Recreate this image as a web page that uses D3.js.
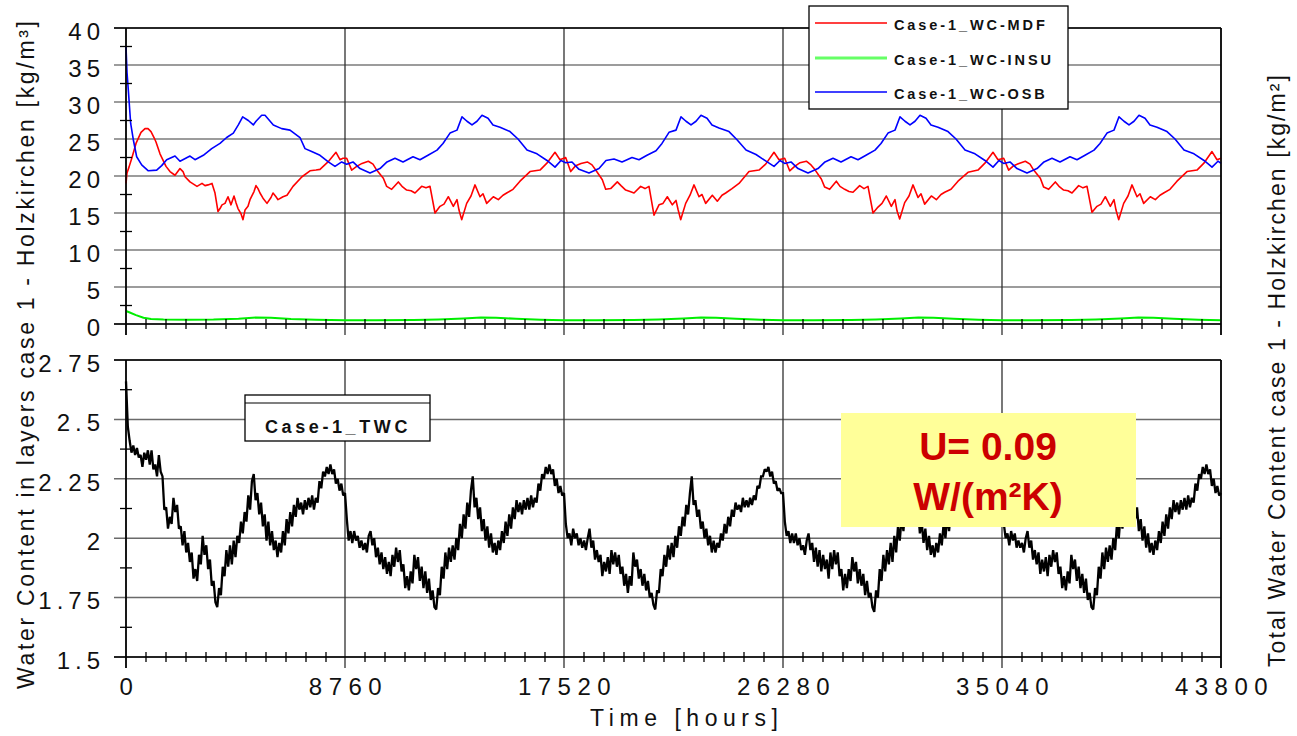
<!DOCTYPE html>
<html>
<head>
<meta charset="utf-8">
<script src="https://cdn.jsdelivr.net/npm/d3@7"></script>
<style>
  html, body { margin: 0; padding: 0; background: #fff; }
  svg { display: block; }
</style>
</head>
<body>
<svg id="chart" width="1297" height="736"></svg>
<script>
// ---- Axis ticks ----
const xMajorTicks = [0, 8760, 17520, 26280, 35040, 43800];
const topTicks = [0, 5, 10, 15, 20, 25, 30, 35, 40];
const bottomTicks = [1.5, 1.75, 2, 2.25, 2.5, 2.75];
const topMinorTicks = [2.5, 7.5, 12.5, 17.5, 22.5, 27.5, 32.5, 37.5];
const bottomMinorTicks = [1.625, 1.875, 2.125, 2.375, 2.625];
const minorStepHours = 800;

// ---- Layer water content [kg/m³]: [hour, value] ----
const wcMDF = [
  [0,19.0],[40,20.4],[120,21.2],[240,22.5],[400,24.4],[600,25.9],[760,26.4],[880,26.4],[1000,26.0],[1120,25.2],
  [1200,24.6],[1360,23.0],[1600,21.3],[1760,20.6],[1960,20.1],[2160,21.0],[2280,20.6],[2360,19.9],[2560,19.2],[2840,18.6],
  [3040,19.0],[3160,18.7],[3280,18.8],[3440,19.0],[3560,17.7],[3680,15.2],[3760,15.6],[3840,16.1],[3960,16.3],[4080,17.2],
  [4200,16.1],[4320,17.3],[4400,16.4],[4480,15.6],[4600,14.9],[4680,14.1],[4760,15.4],[4880,15.9],[4960,16.8],[5120,17.9],
  [5200,18.7],[5280,18.3],[5360,17.7],[5480,17.0],[5640,16.3],[5800,17.1],[5880,17.7],[6000,17.2],[6080,16.8],[6280,17.2],
  [6440,17.4],[6680,18.6],[7040,19.9],[7360,20.7],[7600,20.8],[7760,20.9],[8080,21.9],[8400,23.2],[8560,22.2],[8680,22.4],
  [8827,22.4],[9027,20.8],[9227,21.3],[9440,21.7],[9693,22.0],[9880,21.6],[10027,20.8],[10293,19.7],[10427,18.6],[10627,18.2],
  [10893,19.2],[11040,18.6],[11227,18.1],[11400,18.0],[11560,17.7],[11827,18.6],[12000,18.4],[12160,18.6],[12360,15.0],[12560,15.9],
  [12720,16.2],[12893,17.2],[13093,15.9],[13240,16.8],[13320,15.4],[13427,14.1],[13627,16.3],[13800,17.3],[13960,18.8],[14160,17.2],
  [14280,17.6],[14427,16.3],[14693,17.2],[14893,16.8],[15080,17.4],[15227,17.7],[15480,18.2],[15760,19.3],[16160,20.6],[16560,20.8],
  [16827,21.7],[17160,23.2],[17360,22.2],
  [17587,22.5],[17787,20.6],[17987,21.4],[18200,21.7],[18453,21.9],[18640,21.5],[18787,20.8],[19053,19.5],[19187,18.2],[19387,18.3],
  [19653,19.2],[19800,18.7],[19987,18.1],[20160,17.9],[20320,17.7],[20587,18.6],[20760,18.3],[20920,18.6],[21120,14.7],[21320,16.1],
  [21480,16.3],[21653,17.2],[21853,16.1],[22000,16.7],[22080,15.5],[22187,14.1],[22387,16.3],[22560,17.4],[22720,18.8],[22920,17.2],
  [23040,17.5],[23187,16.3],[23453,17.4],[23653,16.6],[23840,17.4],[23987,17.7],[24240,18.3],[24520,19.0],[24920,20.6],[25320,20.8],
  [25587,21.6],[25920,23.2],[26120,22.2],
  [26347,22.4],[26547,20.7],[26747,21.3],[26960,21.8],[27213,22.0],[27400,21.5],[27547,20.9],[27813,19.6],[27947,18.5],[28147,18.2],
  [28413,19.3],[28560,18.6],[28747,18.2],[28920,17.9],[29080,17.8],[29347,18.7],[29520,18.3],[29680,18.6],[29880,15.0],[30080,15.8],
  [30240,16.3],[30413,17.3],[30613,15.9],[30760,16.8],[30840,15.3],[30947,14.2],[31147,16.4],[31320,17.3],[31480,18.8],[31680,17.1],
  [31800,17.6],[31947,16.2],[32213,17.3],[32413,16.8],[32600,17.5],[32747,17.8],[33000,18.2],[33280,19.3],[33680,20.5],[34080,20.8],
  [34347,21.7],[34680,23.2],[34880,22.2],
  [35107,22.4],[35307,20.8],[35507,21.4],[35720,21.7],[35973,22.0],[36160,21.6],[36307,20.8],[36573,19.7],[36707,18.5],[36907,18.2],
  [37173,19.2],[37320,18.6],[37507,18.1],[37680,18.0],[37840,17.7],[38107,18.7],[38280,18.4],[38440,18.6],[38640,15.1],[38840,15.9],
  [39000,16.2],[39173,17.2],[39373,15.9],[39520,16.8],[39600,15.4],[39707,14.1],[39907,16.3],[40080,17.3],[40240,18.8],[40440,17.2],
  [40560,17.6],[40707,16.3],[40973,17.2],[41173,16.8],[41360,17.4],[41507,17.7],[41760,18.2],[42040,19.3],[42440,20.6],[42840,20.8],
  [43107,21.7],[43440,23.3],[43640,22.2],[43800,22.4]
];

const wcINSU = [
  [0,1.75],[150,1.55],[400,1.2],[700,0.85],[1000,0.68],[1500,0.6],[2500,0.58],[3500,0.6],[4500,0.72],[5200,0.88],
  [5800,0.85],[6600,0.68],[7600,0.58],[8760,0.52],[10000,0.5],[11500,0.53],[12500,0.6],[13500,0.74],[14200,0.87],[14800,0.85],
  [15600,0.7],[16600,0.58],[17520,0.52],[18800,0.5],[20300,0.53],[21300,0.6],[22300,0.74],[23000,0.88],[23600,0.85],[24400,0.7],
  [25400,0.58],[26280,0.52],[27500,0.5],[29000,0.53],[30000,0.6],[31000,0.74],[31700,0.88],[32300,0.85],[33100,0.7],[34100,0.58],
  [35040,0.52],[36300,0.5],[37800,0.53],[38800,0.6],[39800,0.74],[40500,0.88],[41100,0.85],[41900,0.7],[42900,0.58],[43800,0.52]
];

const wcOSB = [
  [0,37.5],[40,34.0],[93,31.6],[187,27.1],[293,24.9],[427,22.6],[627,21.5],[893,20.7],[1227,20.8],[1427,21.4],
  [1627,22.2],[1960,22.7],[2160,22.0],[2560,22.7],[2760,22.2],[3093,22.8],[3427,23.7],[3760,24.4],[4027,25.2],[4293,25.8],
  [4493,26.9],[4667,28.0],[4893,27.5],[5093,26.9],[5200,27.4],[5427,28.2],[5560,28.2],[5893,26.9],[6227,26.4],[6560,26.2],
  [6960,25.2],[7160,23.7],[7427,23.3],[7760,22.8],[8093,21.9],[8360,21.3],[8627,21.9],
  [8827,21.6],[9080,21.9],[9360,21.0],[9760,20.4],[10160,21.0],[10440,21.9],[10760,22.4],[11080,21.9],[11480,22.6],[11760,22.2],
  [12080,22.8],[12440,23.5],[12680,24.4],[12960,25.8],[13240,26.2],[13440,28.0],[13640,27.4],[13840,26.9],[14040,27.4],[14240,28.2],
  [14480,27.8],[14680,26.9],[14960,26.6],[15360,26.0],[15680,25.0],[16040,23.5],[16440,23.0],[16840,22.1],[17160,21.2],[17400,22.1],
  [17587,21.8],[17840,21.9],[18120,20.9],[18520,20.4],[18920,21.0],[19200,22.1],[19520,22.3],[19840,21.9],[20240,22.5],[20520,22.2],
  [20840,22.8],[21200,23.4],[21440,24.4],[21720,25.9],[22000,26.2],[22200,28.0],[22400,27.4],[22600,26.9],[22800,27.4],[23000,28.2],
  [23240,27.8],[23440,26.9],[23720,26.5],[24120,26.0],[24440,24.9],[24800,23.5],[25200,22.9],[25600,22.0],[25920,21.3],[26160,22.1],
  [26347,21.7],[26600,21.9],[26880,21.0],[27280,20.4],[27680,21.0],[27960,21.9],[28280,22.4],[28600,21.9],[29000,22.6],[29280,22.2],
  [29600,22.8],[29960,23.5],[30200,24.4],[30480,25.8],[30760,26.2],[30960,28.0],[31160,27.4],[31360,26.9],[31560,27.4],[31760,28.2],
  [32000,27.8],[32200,26.9],[32480,26.6],[32880,26.0],[33200,25.0],[33560,23.5],[33960,23.0],[34360,22.1],[34680,21.2],[34920,22.1],
  [35107,21.7],[35360,21.9],[35640,21.0],[36040,20.4],[36440,21.0],[36720,21.9],[37040,22.4],[37360,21.9],[37760,22.6],[38040,22.2],
  [38360,22.8],[38720,23.5],[38960,24.4],[39240,25.8],[39520,26.2],[39720,28.0],[39920,27.4],[40120,26.9],[40320,27.4],[40520,28.2],
  [40760,27.8],[40960,26.9],[41240,26.6],[41640,26.0],[41960,25.0],[42320,23.5],[42720,23.0],[43120,22.1],[43440,21.2],[43680,22.0],[43800,21.7]
];

// ---- Total water content [kg/m²], one value every 73 hours ----
const twcStepHours = 73;
const twcYear1 = [
  2.66,2.47,2.41,2.36,2.39,2.35,2.38,2.34,2.35,2.30, 2.36,2.33,2.37,2.31,2.37,2.29,2.31,2.26,2.35,2.28,
  2.26,2.12,2.13,2.04,2.09,2.06,2.17,2.11,2.14,2.04, 2.05,1.97,2.03,1.94,1.98,1.90,1.94,1.83,1.87,1.82,
  1.93,1.89,2.01,1.93,1.97,1.87,1.91,1.80,1.82,1.73, 1.71,1.79,1.76,1.88,1.84,1.95,1.88,1.97,1.89,1.99,
  1.92,2.01,1.98,2.07,2.02,2.11,2.07,2.18,2.12,2.24, 2.27,2.16,2.19,2.10,2.15,2.05,2.10,1.99,2.07,1.97,
  2.03,1.95,1.99,1.92,1.98,1.94,2.03,1.97,2.08,2.02, 2.11,2.05,2.14,2.09,2.17,2.12,2.15,2.10,2.16,2.12,
  2.17,2.13,2.18,2.12,2.17,2.15,2.24,2.21,2.28,2.26, 2.30,2.27,2.31,2.27,2.29,2.23,2.25,2.20,2.23,2.18
];
const twcYear2 = [
  2.19,2.08,1.99,2.03,1.98,2.03,1.99,2.01,1.96,1.99, 1.95,1.98,1.94,2.01,2.03,1.97,2.00,1.92,1.96,1.89,
  1.94,1.87,1.92,1.85,1.90,1.84,1.93,1.88,1.96,1.90, 1.95,1.86,1.89,1.79,1.84,1.78,1.86,1.81,1.93,1.87,
  1.92,1.82,1.88,1.79,1.86,1.77,1.83,1.74,1.78,1.71, 1.70,1.79,1.76,1.88,1.83,1.94,1.87,1.96,1.90,1.97,
  1.91,2.00,1.95,2.06,2.00,2.10,2.04,2.15,2.09,2.20, 2.26,2.13,2.17,2.08,2.13,2.03,2.08,1.99,2.05,1.96,
  2.02,1.94,1.98,1.93,1.99,1.95,2.03,1.98,2.07,2.01, 2.10,2.04,2.13,2.08,2.16,2.11,2.15,2.10,2.16,2.12,
  2.17,2.12,2.18,2.13,2.17,2.15,2.23,2.20,2.27,2.25, 2.30,2.27,2.31,2.27,2.29,2.22,2.25,2.19,2.22,2.18
];
const twcYear3 = [
  2.19,2.06,2.00,2.02,1.97,2.04,2.00,2.02,1.97,2.00, 1.96,1.99,1.95,2.00,2.04,1.96,1.99,1.91,1.95,1.90,
  1.93,1.84,1.90,1.86,1.92,1.85,1.95,1.89,1.94,1.88, 1.93,1.85,1.88,1.80,1.85,1.77,1.84,1.80,1.94,1.88,
  1.91,1.83,1.87,1.80,1.85,1.78,1.82,1.75,1.77,1.72, 1.70,1.78,1.77,1.87,1.84,1.93,1.88,1.97,1.91,1.98,
  1.92,2.01,1.96,2.05,2.01,2.09,2.05,2.14,2.10,2.19, 2.26,2.14,2.16,2.09,2.12,2.04,2.07,2.00,2.04,1.97,
  2.01,1.94,1.99,1.94,1.98,1.96,2.02,1.99,2.06,2.02, 2.09,2.05,2.12,2.09,2.15,2.12,2.14,2.11,2.17,2.13,
  2.16,2.13,2.17,2.14,2.18,2.16,2.22,2.21,2.26,2.26, 2.29,2.28,2.30,2.26,2.28,2.23,2.24,2.20,2.21,2.19
];
const twcYear4 = [
  2.19,2.07,2.01,2.03,1.98,2.02,1.98,2.02,1.97,2.00, 1.95,1.97,1.93,1.99,2.02,1.95,1.98,1.90,1.96,1.88,
  1.95,1.86,1.93,1.87,1.91,1.83,1.94,1.87,1.95,1.89, 1.94,1.84,1.87,1.78,1.85,1.79,1.87,1.82,1.92,1.86,
  1.90,1.81,1.87,1.80,1.85,1.76,1.82,1.75,1.77,1.71, 1.69,1.78,1.75,1.87,1.82,1.93,1.86,1.95,1.89,1.98,
  1.90,2.01,1.94,2.05,1.99,2.09,2.03,2.14,2.08,2.19, 2.25,2.12,2.16,2.07,2.12,2.02,2.07,1.98,2.04,1.95,
  2.01,1.93,1.97,1.92,1.98,1.94,2.02,1.97,2.06,2.00, 2.09,2.03,2.12,2.07,2.15,2.10,2.14,2.09,2.15,2.11,
  2.16,2.11,2.17,2.12,2.16,2.14,2.22,2.19,2.26,2.24, 2.29,2.26,2.30,2.26,2.28,2.21,2.24,2.18,2.21,2.17
];
const twcYear5 = [
  2.18,2.06,2.00,2.02,1.97,2.03,1.99,2.02,1.96,1.99, 1.96,1.98,1.94,2.00,2.03,1.96,1.99,1.91,1.95,1.89,
  1.94,1.85,1.91,1.86,1.92,1.84,1.93,1.88,1.95,1.90, 1.94,1.85,1.88,1.79,1.84,1.78,1.86,1.81,1.93,1.87,
  1.91,1.82,1.88,1.79,1.85,1.77,1.83,1.74,1.77,1.71, 1.70,1.79,1.76,1.88,1.83,1.94,1.87,1.96,1.90,1.97,
  1.91,2.00,1.95,2.06,2.00,2.10,2.04,2.15,2.09,2.20, 2.26,2.13,2.17,2.08,2.13,2.03,2.08,1.99,2.05,1.96,
  2.02,1.94,1.98,1.93,1.99,1.95,2.03,1.98,2.07,2.01, 2.10,2.04,2.13,2.08,2.16,2.11,2.15,2.10,2.16,2.12,
  2.17,2.12,2.18,2.13,2.17,2.15,2.23,2.20,2.27,2.25, 2.30,2.27,2.31,2.27,2.29,2.22,2.25,2.19,2.22,2.18,
  2.19
];

const topSeries = [
  { name: "Case-1_WC-MDF",  data: wcMDF,  color: "#ff0000", width: 1.6 },
  { name: "Case-1_WC-INSU", data: wcINSU, color: "#00ee00", width: 2 },
  { name: "Case-1_WC-OSB",  data: wcOSB,  color: "#0000ff", width: 1.6 }
];

// ---- Layout ----
const FONT = "'Liberation Sans', Arial, Helvetica, sans-serif";
const svg = d3.select("#chart");

const x = d3.scaleLinear().domain([0, 43800]).range([126, 1221]);
const yTop = d3.scaleLinear().domain([0, 40]).range([324, 28]);
const yBot = d3.scaleLinear().domain([1.5, 2.75]).range([657, 360]);

const gridStart = 114;

// minor x tick positions, restarting at every year mark
const xMinorTicks = [];
for (let k = 0; k < xMajorTicks.length - 1; k++) {
  for (let t = xMajorTicks[k] + minorStepHours; t < xMajorTicks[k + 1]; t += minorStepHours) {
    xMinorTicks.push(t);
  }
}

function drawPanel(yScale, majors, hColor, hWidth) {
  const g = svg.append("g");
  const [yLow, yHigh] = yScale.range();
  // horizontal grid lines (reach left past the axis)
  g.selectAll("line.h").data(majors).join("line")
    .attr("x1", gridStart).attr("x2", x.range()[1])
    .attr("y1", d => yScale(d)).attr("y2", d => yScale(d))
    .attr("stroke", hColor).attr("stroke-width", hWidth);
  // vertical year lines (reach below the axis)
  g.selectAll("line.v").data(xMajorTicks).join("line")
    .attr("x1", d => x(d)).attr("x2", d => x(d))
    .attr("y1", yHigh).attr("y2", yLow + 11)
    .attr("stroke", "#303030").attr("stroke-width", 1.3);
  return g;
}

function drawFrame(yScale, minors) {
  const g = svg.append("g");
  const [yLow, yHigh] = yScale.range();
  // left spine, right spine, bottom axis, top edge
  g.append("line").attr("x1", x(0)).attr("x2", x(0)).attr("y1", yHigh).attr("y2", yLow + 11)
    .attr("stroke", "#000").attr("stroke-width", 1.6);
  g.append("line").attr("x1", x(43800)).attr("x2", x(43800)).attr("y1", yHigh).attr("y2", yLow + 11)
    .attr("stroke", "#000").attr("stroke-width", 1.6);
  g.append("line").attr("x1", gridStart).attr("x2", x(43800)).attr("y1", yLow).attr("y2", yLow)
    .attr("stroke", "#000").attr("stroke-width", 1.6);
  g.append("line").attr("x1", gridStart).attr("x2", x(43800)).attr("y1", yHigh).attr("y2", yHigh)
    .attr("stroke", "#000").attr("stroke-width", 1.3);
  // minor x ticks crossing the bottom axis
  g.selectAll("line.mx").data(xMinorTicks).join("line")
    .attr("x1", d => x(d)).attr("x2", d => x(d))
    .attr("y1", yLow - 5).attr("y2", yLow + 5)
    .attr("stroke", "#000").attr("stroke-width", 1.3);
  // minor y ticks crossing the left spine
  g.selectAll("line.my").data(minors).join("line")
    .attr("x1", x(0) - 6).attr("x2", x(0) + 6)
    .attr("y1", d => yScale(d)).attr("y2", d => yScale(d))
    .attr("stroke", "#000").attr("stroke-width", 1.3);
  return g;
}

function yLabels(yScale, values) {
  const axis = d3.axisLeft(yScale).tickValues(values).tickSize(0).tickPadding(0)
    .tickFormat(d3.format("~g"));
  const g = svg.append("g").attr("transform", `translate(${x(0) - 21},0)`).call(axis);
  g.select(".domain").remove();
  g.selectAll("text")
    .attr("font-family", FONT).attr("font-size", 24).attr("fill", "#111")
    .attr("letter-spacing", "5px").attr("dy", "0.47em").attr("x", 0);
}

// ---- Top panel ----
drawPanel(yTop, topTicks, "#3a3a3a", 1.2);
const topLine = d3.line().x(d => x(d[0])).y(d => yTop(d[1]));
svg.append("g").selectAll("path").data(topSeries).join("path")
  .attr("d", d => topLine(d.data))
  .attr("fill", "none").attr("stroke", d => d.color).attr("stroke-width", d => d.width)
  .attr("stroke-linejoin", "round");
drawFrame(yTop, topMinorTicks);
yLabels(yTop, topTicks);

// ---- Bottom panel ----
drawPanel(yBot, bottomTicks, "#6a6a6a", 1.5);
const twc = [].concat(twcYear1, twcYear2, twcYear3, twcYear4, twcYear5);
const botLine = d3.line().x((d, i) => x(i * twcStepHours)).y(d => yBot(d));
svg.append("path").attr("d", botLine(twc))
  .attr("fill", "none").attr("stroke", "#000").attr("stroke-width", 2.3)
  .attr("stroke-linejoin", "miter").attr("stroke-miterlimit", 2);
drawFrame(yBot, bottomMinorTicks);
yLabels(yBot, bottomTicks);

// x tick labels under the bottom panel
const xAxis = d3.axisBottom(x).tickValues(xMajorTicks).tickSize(0).tickPadding(0).tickFormat(d3.format("d"));
const xg = svg.append("g").attr("transform", `translate(3,${yBot.range()[0]})`).call(xAxis);
xg.select(".domain").remove();
xg.selectAll("text").attr("font-family", FONT).attr("font-size", 24).attr("fill", "#111")
  .attr("letter-spacing", "6.5px").attr("y", 38).attr("dy", 0);

// ---- Axis titles ----
svg.append("text").attr("transform", "translate(34,355) rotate(-90)")
  .attr("text-anchor", "middle").attr("font-family", FONT).attr("font-size", 23).attr("fill", "#111")
  .attr("textLength", 668).attr("lengthAdjust", "spacing")
  .text("Water Content in layers case 1 - Holzkirchen [kg/m³]");
svg.append("text").attr("transform", "translate(1285,371) rotate(-90)")
  .attr("text-anchor", "middle").attr("font-family", FONT).attr("font-size", 23).attr("fill", "#111")
  .attr("textLength", 592).attr("lengthAdjust", "spacing")
  .text("Total Water Content case 1 - Holzkirchen [kg/m²]");
svg.append("text").attr("x", 684).attr("y", 726)
  .attr("text-anchor", "middle").attr("font-family", FONT).attr("font-size", 23).attr("fill", "#111")
  .attr("textLength", 188).attr("lengthAdjust", "spacing")
  .text("Time [hours]");

// ---- Legend of the layer series ----
const lg = svg.append("g");
lg.append("rect").attr("x", 809).attr("y", 6).attr("width", 259).attr("height", 103)
  .attr("fill", "#fff").attr("stroke", "#000").attr("stroke-width", 1.3);
const legendRows = [23, 58, 92];
topSeries.forEach((s, i) => {
  lg.append("line").attr("x1", 815).attr("x2", 887)
    .attr("y1", legendRows[i]).attr("y2", legendRows[i])
    .attr("stroke", i === 1 ? "#66ff66" : s.color).attr("stroke-width", i === 1 ? 2.8 : 1.3);
  lg.append("text").attr("x", 894).attr("y", legendRows[i] + 6.5)
    .attr("font-family", FONT).attr("font-size", 14.5).attr("font-weight", "bold").attr("fill", "#111")
    .attr("letter-spacing", "2.9px").text(s.name);
});

// ---- Legend of the total water content ----
const lg2 = svg.append("g");
lg2.append("rect").attr("x", 245).attr("y", 395).attr("width", 185).attr("height", 46)
  .attr("fill", "#fff").attr("stroke", "#000").attr("stroke-width", 1.3);
lg2.append("line").attr("x1", 245).attr("x2", 430).attr("y1", 403).attr("y2", 403)
  .attr("stroke", "#000").attr("stroke-width", 1.2);
lg2.append("text").attr("x", 338).attr("y", 432.5).attr("text-anchor", "middle")
  .attr("font-family", FONT).attr("font-size", 18).attr("font-weight", "bold").attr("fill", "#111")
  .attr("letter-spacing", "3.6px").text("Case-1_TWC");

// ---- U-value note ----
const note = svg.append("g");
note.append("rect").attr("x", 841).attr("y", 413).attr("width", 295).attr("height", 114)
  .attr("fill", "#ffff99");
note.append("text").attr("x", 988).attr("y", 460).attr("text-anchor", "middle")
  .attr("font-family", FONT).attr("font-size", 39).attr("font-weight", "bold").attr("fill", "#cc0000")
  .text("U= 0.09");
note.append("text").attr("x", 988).attr("y", 510).attr("text-anchor", "middle")
  .attr("font-family", FONT).attr("font-size", 39).attr("font-weight", "bold").attr("fill", "#cc0000")
  .text("W/(m²K)");
</script>
</body>
</html>
